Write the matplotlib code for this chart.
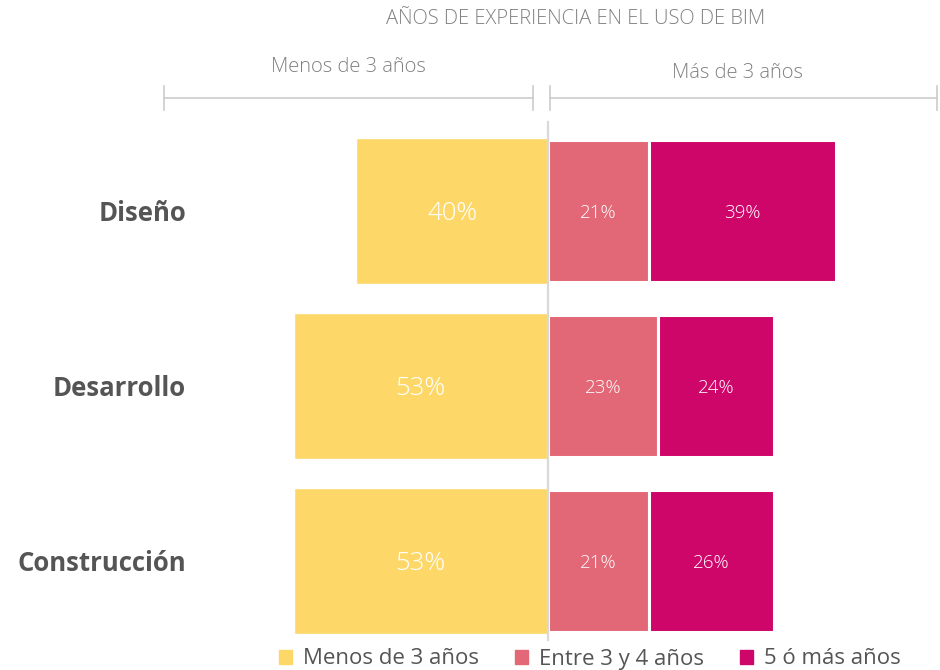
import matplotlib
matplotlib.use("Agg")
import matplotlib.pyplot as plt
from matplotlib.patches import Patch
import numpy as np

# datos
categorias = ["Diseño", "Desarrollo", "Construcción"]
menos_3 = [40, 53, 53]
entre_3_4 = [21, 23, 21]
mas_5 = [39, 24, 26]
series_nombres = ["Menos de 3 años", "Entre 3 y 4 años", "5 ó más años"]

amarillo = "#FDD868"
rosa = "#E36877"
magenta = "#CE066A"
gris = "#808080"

plt.rcParams["font.family"] = ["Open Sans", "DejaVu Sans"]

fig = plt.figure(figsize=(9.4, 6.7), dpi=100)
ax = fig.add_axes([0, 0, 1, 1])
# escala: centro en x=548 px, ~4.8 px por punto porcentual
px = 4.8
ax.set_xlim(-548 / px, (940 - 548) / px)
ax.set_ylim((670 - 211) / 175, -211 / 175)
ax.axis("off")

y = np.arange(len(categorias))
ax.barh(y, [-v for v in menos_3], height=0.835, color=amarillo,
        edgecolor="white", linewidth=1.0)
ax.barh(y, entre_3_4, height=0.81, color=rosa, edgecolor="white", linewidth=2.2)
ax.barh(y, mas_5, left=entre_3_4, height=0.81, color=magenta,
        edgecolor="white", linewidth=2.2)

dy = 0.012
for i in range(len(categorias)):
    ax.text(-menos_3[i] / 2, i + dy, f"{menos_3[i]}%", color="white", fontsize=18.5,
            fontweight="light", ha="center", va="center")
    ax.text(entre_3_4[i] / 2, i + dy, f"{entre_3_4[i]}%", color="white", fontsize=13.5,
            fontweight="light", ha="center", va="center")
    ax.text(entre_3_4[i] + mas_5[i] / 2, i + dy, f"{mas_5[i]}%", color="white",
            fontsize=13.5, fontweight="light", ha="center", va="center")
    ax.text((186 - 548) / px, i + dy, categorias[i], color="#555555", fontsize=18.5,
            fontweight="bold", ha="right", va="center")

# linea central
ax.plot([0, 0], [-0.51, 2.45], color="#d9d9d9", linewidth=1.6, zorder=5)

# corchetes superiores
yb = (98 - 211) / 175
tick = 12 / 175
for x0, x1 in [(-(548 - 164) / px, -(548 - 533) / px), ((550 - 548) / px, (937 - 548) / px)]:
    ax.plot([x0, x1], [yb, yb], color="#cccccc", linewidth=1.2)
    for xx in (x0, x1):
        ax.plot([xx, xx], [yb - tick, yb + tick], color="#cccccc", linewidth=1.2)

ax.text((348 - 548) / px, (67 - 211) / 175, "Menos de 3 años", color=gris,
        fontsize=14.5, fontweight="light", ha="center", va="center")
ax.text((737 - 548) / px, (73 - 211) / 175, "Más de 3 años", color=gris,
        fontsize=14.5, fontweight="light", ha="center", va="center")
ax.text((576 - 548) / px, (19 - 211) / 175, "AÑOS DE EXPERIENCIA EN EL USO DE BIM",
        color=gris, fontsize=14.5, fontweight="light", ha="center", va="center")

handles = [Patch(color=c) for c in (amarillo, rosa, magenta)]
fig.legend(handles, series_nombres, loc="center", bbox_to_anchor=(590 / 940, 11 / 670),
           ncol=3, frameon=False, handlelength=0.6, handleheight=0.6,
           handletextpad=0.5, columnspacing=1.6,
           prop={"family": "Open Sans", "size": 16}, labelcolor="#555555")

fig.savefig("out.png", dpi=100)
